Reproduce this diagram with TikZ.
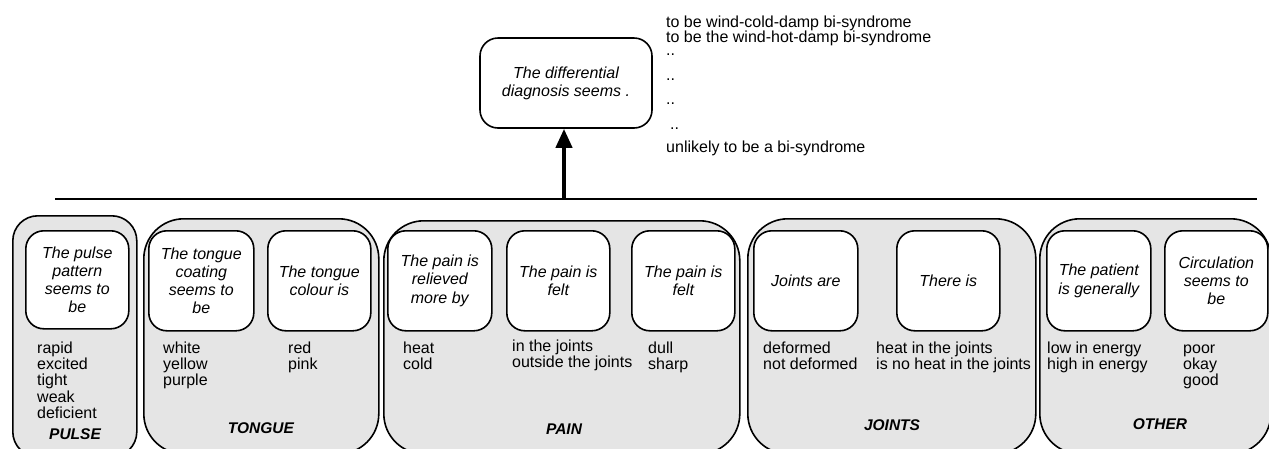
\documentclass[tikz,border=0pt]{standalone}
\usepackage{fontspec}
\setmainfont{Liberation Sans}
\usetikzlibrary{arrows.meta}
\definecolor{grpfill}{RGB}{229,229,229}
\tikzset{
  grpbox/.style={draw, line width=1.6pt, fill=grpfill, rounded corners=40pt, anchor=north west, inner sep=0pt},
  inbox/.style={draw, line width=1.6pt, fill=white, rounded corners=18pt, anchor=north west, inner sep=0pt,
    minimum height=100pt, align=center, font=\fontsize{16}{18.3}\selectfont\itshape},
  vals/.style={anchor=north west, inner sep=0pt, align=left, font=\fontsize{16}{16.3}\selectfont},
  grplabel/.style={anchor=base, inner sep=0pt, font=\fontsize{15.5}{16}\selectfont\bfseries\itshape},
  toptext/.style={anchor=base west, inner sep=0pt, font=\fontsize{16}{16}\selectfont},
  conn/.style={line width=1.8pt},
  bigarrow/.style={line width=4pt, -{Triangle[width=16pt,length=19pt]}}
}
\newcommand{\vstrut}{\rule{0pt}{12pt}}
\begin{document}
\begin{tikzpicture}[x=1pt,y=-1pt]
\path[use as bounding box, clip] (0,0) rectangle (1269,448);
% top box
\node[draw, line width=1.6pt, rounded corners=18pt, minimum width=172pt, minimum height=90pt, align=center,
  inner sep=0pt, font=\fontsize{16}{18}\selectfont\itshape] (diag) at (566,83) {The differential\\diagnosis seems .};
\node[toptext] (t1) at (666,27) {to be wind-cold-damp bi-syndrome};
\node[toptext] (t2) at (666,42) {to be the wind-hot-damp bi-syndrome};
\node[toptext] (t3) at (666,55) {..};
\node[toptext] (t4) at (666,80) {..};
\node[toptext] (t5) at (666,104) {..};
\node[toptext] (t6) at (670,129) {..};
\node[toptext] (t7) at (666,152) {unlikely to be a bi-syndrome};
% line and arrow
\coordinate (lineL) at (55,199);
\coordinate (lineR) at (1257,199);
\coordinate (junc) at (564,199);
\draw[conn] (lineL) -- (lineR);
\draw[bigarrow] (junc) -- (junc |- diag.south);
% group boxes
\node[grpbox, rounded corners=25pt, minimum width=124pt, minimum height=241pt] (gpulse) at (12,215) {};
\node[grpbox, minimum width=235pt, minimum height=235pt] (gtongue) at (143,218) {};
\node[grpbox, minimum width=356pt, minimum height=233pt] (gpain) at (383,220) {};
\node[grpbox, minimum width=288pt, minimum height=235pt] (gjoints) at (747,218) {};
\node[grpbox, minimum width=231pt, minimum height=235pt] (gother) at (1039,218) {};
% inner boxes
\node[inbox, minimum width=103pt, minimum height=98pt] (bpulse) at (25,230) {The pulse\\pattern\\seems to\\be};
\node[inbox, minimum width=105pt] (bcoat) at (148,230) {The tongue\\coating\\seems to\\be};
\node[inbox, minimum width=103pt] (bcol) at (267,230) {The tongue\\colour is};
\node[inbox, minimum width=104pt] (brel) at (387,230) {The pain is\\relieved\\more by};
\node[inbox, minimum width=103pt] (bfelt1) at (506,230) {The pain is\\felt};
\node[inbox, minimum width=103pt] (bfelt2) at (631,230) {The pain is\\felt};
\node[inbox, minimum width=104pt] (bjoint) at (753,230) {Joints are};
\node[inbox, minimum width=103pt] (bthere) at (896,230) {There is};
\node[inbox, minimum width=104pt] (bpat) at (1046,230) {The patient\\is generally};
\node[inbox, minimum width=103pt] (bcirc) at (1164,230) {Circulation\\seems to\\be};
% values
\node[vals] (vpulse) at (37,341) {\vstrut rapid\\excited\\tight\\weak\\deficient};
\node[vals] (vcoat) at (163,341) {\vstrut white\\yellow\\purple};
\node[vals] (vcol) at (288,341) {\vstrut red\\pink};
\node[vals] (vrel) at (403,341) {\vstrut heat\\cold};
\node[vals] (vfelt1) at (512,339) {\vstrut in the joints\\outside the joints};
\node[vals] (vfelt2) at (648,341) {\vstrut dull\\sharp};
\node[vals] (vjoint) at (763,341) {\vstrut deformed\\not deformed};
\node[vals] (vthere) at (876,341) {\vstrut heat in the joints\\is no heat in the joints};
\node[vals] (vpat) at (1047,341) {\vstrut low in energy\\high in energy};
\node[vals] (vcirc) at (1183,341) {\vstrut poor\\okay\\good};
% group labels
\node[grplabel] (lpulse) at (75,439) {PULSE};
\node[grplabel] (ltongue) at (261,433) {TONGUE};
\node[grplabel] (lpain) at (564,434) {PAIN};
\node[grplabel] (ljoints) at (892,430) {JOINTS};
\node[grplabel] (lother) at (1160,429) {OTHER};
\end{tikzpicture}
\end{document}
